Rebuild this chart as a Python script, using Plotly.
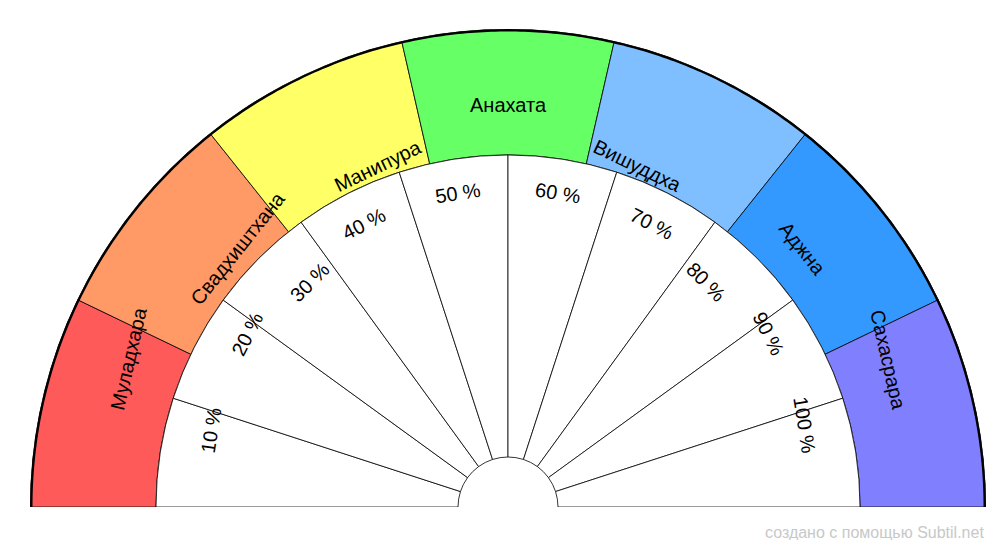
import math
import plotly.graph_objects as go

chakras = ["Муладхара", "Свадхиштхана", "Манипура", "Анахата", "Вишуддха", "Аджна", "Сахасрара"]
chakra_colors = ["#FF5A5A", "#FF9966", "#FFFF66", "#66FF66", "#80BFFF", "#3399FF", "#8080FF"]
percents = ["10 %", "20 %", "30 %", "40 %", "50 %", "60 %", "70 %", "80 %", "90 %", "100 %"]

R_OUT, R_MID, R_HOLE = 478, 352, 50
W, H = 1000, 540
ML, MR, MT, MB = 22, 22, 20, 40
CX, CY = 500, 499  # centre in pixels (from top)

fig = go.Figure()

# outer ring of chakras (left to right => angle 180 -> 0)
cw = 180 / len(chakras)
fig.add_trace(go.Barpolar(
    theta=[180 - (i + 0.5) * cw for i in range(len(chakras))],
    r=[R_OUT - R_MID] * len(chakras), base=R_MID, width=[cw] * len(chakras),
    marker=dict(color=chakra_colors, line=dict(color="black", width=0.8)),
    hoverinfo="skip", showlegend=False))

# inner white sectors
pw = 180 / len(percents)
fig.add_trace(go.Barpolar(
    theta=[180 - (i + 0.5) * pw for i in range(len(percents))],
    r=[R_MID - R_HOLE] * len(percents), base=R_HOLE, width=[pw] * len(percents),
    marker=dict(color="white", line=dict(color="black", width=0.8)),
    hoverinfo="skip", showlegend=False))

# thick outer arc
arc = [i * 0.5 for i in range(361)]
fig.add_trace(go.Scatterpolar(theta=arc, r=[R_OUT] * len(arc), mode="lines",
                              line=dict(color="black", width=5), hoverinfo="skip", showlegend=False))


def to_paper(radius, ang):
    px = CX + radius * math.cos(math.radians(ang))
    py = CY - radius * math.sin(math.radians(ang))
    return (px - ML) / (W - ML - MR), (H - MB - py) / (H - MT - MB)


ann = []
for i, name in enumerate(chakras):
    a = 180 - (i + 0.5) * cw
    x, y = to_paper(415, a)
    ann.append(dict(x=x, y=y, xref="paper", yref="paper", text=name, showarrow=False,
                    textangle=90 - a, font=dict(size=20, color="black")))
for i, p in enumerate(percents):
    a = 180 - (i + 0.5) * pw
    x, y = to_paper(318, a)
    ann.append(dict(x=x, y=y, xref="paper", yref="paper", text=p, showarrow=False,
                    textangle=90 - a, font=dict(size=20, color="black")))
ann.append(dict(x=1, y=-0.03, xref="paper", yref="paper", xanchor="right", yanchor="top",
                text="создано с помощью Subtil.net", showarrow=False,
                font=dict(size=16, color="#C8C8C8")))

fig.update_layout(
    width=W, height=H, margin=dict(l=ML, r=MR, t=MT, b=MB),
    paper_bgcolor="white", font=dict(family="Liberation Sans, Arial, sans-serif"),
    polar=dict(sector=[0, 180], hole=0, bgcolor="white", bargap=0,
               radialaxis=dict(range=[0, R_OUT], visible=False, showgrid=False),
               angularaxis=dict(visible=False, showgrid=False)),
    annotations=ann)

fig.write_html("out.html")
